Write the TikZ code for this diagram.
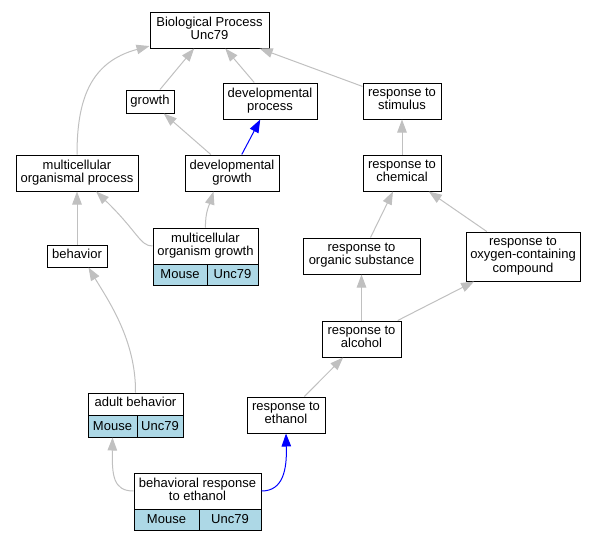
\documentclass[tikz,border=0pt]{standalone}
\usepackage{fontspec}
\setmainfont{Liberation Sans}
\usetikzlibrary{arrows.meta}
\definecolor{edgegray}{RGB}{192,192,192}
\definecolor{cellblue}{RGB}{173,216,230}
\newcommand\gvstrut{\rule[-4pt]{0pt}{13.5pt}}
\newcommand\gvcellstrut{\rule[-1.5pt]{0pt}{11pt}}
\begin{document}
\begin{tikzpicture}[x=1pt,y=-1pt,
  box/.style={draw=black, line width=1pt, fill=white, inner sep=0pt, align=center,
    font=\fontsize{13}{13.3}\selectfont,
    execute at begin node=\gvstrut, execute at end node=\gvstrut},
  cell/.style={draw=black, line width=1pt, fill=cellblue, inner sep=0pt, align=center,
    font=\fontsize{13}{13.3}\selectfont,
    execute at begin node=\gvcellstrut},
  edge/.style={draw=edgegray, line width=1pt, -{Triangle[length=13pt,width=9.5pt]}},
  blueedge/.style={edge, draw=blue}
]
\useasboundingbox (0,0) rectangle (596,541);
% nodes
\node[box, minimum width=119pt, minimum height=36pt] (bp) at (209.5,30) {Biological Process\\Unc79};
\node[box, minimum width=48pt, minimum height=23pt] (growth) at (150,101.5) {growth};
\node[box, minimum width=94pt, minimum height=36pt] (devproc) at (270,101) {developmental\\process};
\node[box, minimum width=78pt, minimum height=36pt] (stim) at (402,101) {response to\\stimulus};
\node[box, minimum width=122pt, minimum height=36pt] (mop) at (77,173) {multicellular\\organismal process};
\node[box, minimum width=94pt, minimum height=36pt] (devgrowth) at (232,173) {developmental\\growth};
\node[box, minimum width=78pt, minimum height=36pt] (chem) at (402,173) {response to\\chemical};
\node[box, minimum width=105pt, minimum height=36pt] (mog) at (205.5,246) {multicellular\\organism growth};
\node[cell, minimum width=54pt, minimum height=21pt] (mogM) at (180,274.5) {Mouse};
\node[cell, minimum width=51pt, minimum height=21pt] (mogU) at (232.5,274.5) {Unc79};
\node[box, minimum width=60pt, minimum height=22pt] (behavior) at (77,256) {behavior};
\node[box, minimum width=117pt, minimum height=36pt] (org) at (361.5,256) {response to\\organic substance};
\node[box, minimum width=114pt, minimum height=49pt] (oxy) at (523,256.5) {response to\\oxygen-containing\\compound};
\node[box, minimum width=79pt, minimum height=36pt] (alc) at (361.5,339) {response to\\alcohol};
\node[box, minimum width=78pt, minimum height=36pt] (eth) at (286,415) {response to\\ethanol};
\node[box, minimum width=95pt, minimum height=22pt] (adult) at (135.5,404) {adult behavior};
\node[cell, minimum width=49pt, minimum height=22pt] (adultM) at (112.5,426) {Mouse};
\node[cell, minimum width=46pt, minimum height=22pt] (adultU) at (160,426) {Unc79};
\node[box, minimum width=127pt, minimum height=36pt] (ber) at (197.5,491) {behavioral response\\to ethanol};
\node[cell, minimum width=65pt, minimum height=21pt] (berM) at (166.5,519.5) {Mouse};
\node[cell, minimum width=62pt, minimum height=21pt] (berU) at (230,519.5) {Unc79};
% edges
\draw[edge] (mop.north) .. controls (77,100) and (90,62) .. (bp);
\draw[edge] (growth) -- (bp);
\draw[edge] (devproc) -- (bp);
\draw[edge] (stim) -- (bp);
\draw[edge] (devgrowth) -- (growth);
\draw[blueedge] (devgrowth) -- (devproc);
\draw[edge] (chem) -- (stim);
\draw[edge] (behavior) -- (mop);
\draw[edge] (mog.west) .. controls (140,246) and (138,232) .. (mop);
\draw[edge] (mog.north) .. controls (205,212) and (210,203) .. (devgrowth.-135);
\draw[edge] (org) -- (chem);
\draw[edge] (oxy) -- (chem);
\draw[edge] (alc) -- (org);
\draw[edge] (alc) -- (oxy);
\draw[edge] (eth) -- (alc);
\draw[edge] (adult.north) .. controls (136,340) and (108,300) .. (behavior.-45);
\draw[edge] (ber.west) .. controls (113,491) and (112,475) .. (adultM.south);
\draw[blueedge] (ber.east) .. controls (283,491) and (287,470) .. (eth.south);
\end{tikzpicture}
\end{document}
